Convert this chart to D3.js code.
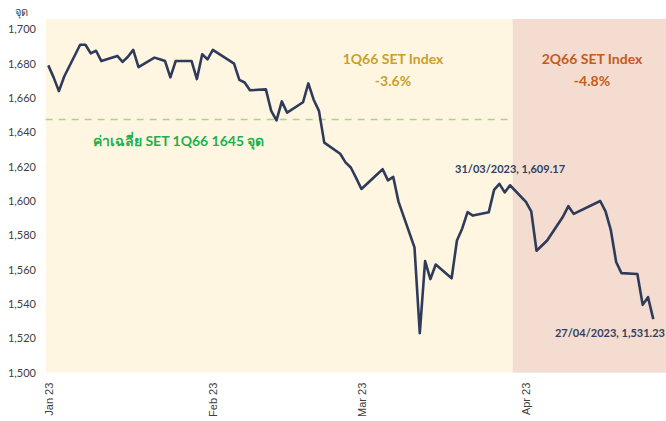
<!DOCTYPE html>
<html>
<head>
<meta charset="utf-8">
<script src="https://cdn.jsdelivr.net/npm/d3@7"></script>
<style>
  html, body { margin: 0; padding: 0; background: #fff; }
  svg { display: block; font-family: Lato, "Noto Sans", sans-serif; }
</style>
</head>
<body>
<div class="chart"></div>
<script>
// SET index daily close, 1Q66 - 2Q66
const dates = [
  "2023-01-03","2023-01-04","2023-01-05","2023-01-06","2023-01-09","2023-01-10","2023-01-11","2023-01-12","2023-01-13",
  "2023-01-16","2023-01-17","2023-01-18","2023-01-19","2023-01-20","2023-01-23","2023-01-24","2023-01-25","2023-01-26",
  "2023-01-27","2023-01-30","2023-01-31","2023-02-01","2023-02-02","2023-02-03","2023-02-06","2023-02-07","2023-02-08",
  "2023-02-09","2023-02-10","2023-02-13","2023-02-14","2023-02-15","2023-02-16","2023-02-17","2023-02-20","2023-02-21",
  "2023-02-22","2023-02-23","2023-02-24","2023-02-27","2023-02-28","2023-03-01","2023-03-02","2023-03-03","2023-03-07",
  "2023-03-08","2023-03-09","2023-03-10","2023-03-13","2023-03-14","2023-03-15","2023-03-16","2023-03-17","2023-03-20",
  "2023-03-21","2023-03-22","2023-03-23","2023-03-24","2023-03-27","2023-03-28","2023-03-29","2023-03-30","2023-03-31",
  "2023-04-03","2023-04-04","2023-04-05","2023-04-07","2023-04-10","2023-04-11","2023-04-12","2023-04-17","2023-04-18",
  "2023-04-19","2023-04-20","2023-04-21","2023-04-24","2023-04-25","2023-04-26","2023-04-27"
];
const values = [
  1679, 1672, 1664, 1672.5, 1691, 1691, 1686, 1687.5, 1681.5,
  1684.5, 1681, 1684, 1688, 1678, 1683.5, 1682.5, 1681.5, 1672,
  1681.5, 1681.5, 1671, 1685.5, 1682.5, 1688, 1682, 1680, 1670.5,
  1669, 1664.5, 1665, 1652.5, 1647, 1658, 1651.5, 1657.5, 1668.5,
  1659, 1652.5, 1634, 1627.5, 1622.5, 1619.5, 1613.5, 1607, 1618.5,
  1612, 1614, 1599.5, 1573, 1523, 1565, 1554.5, 1563, 1555,
  1577, 1584, 1593.5, 1591.5, 1593.5, 1606.5, 1610, 1605, 1609.17,
  1599.5, 1594, 1571, 1577, 1591, 1597, 1592.5, 1600, 1594,
  1583, 1564.5, 1558, 1557.5, 1539.5, 1544, 1531.23
];
const yTicks = [1500, 1520, 1540, 1560, 1580, 1600, 1620, 1640, 1660, 1680, 1700];
const xTicks = ["2023-01-03", "2023-02-03", "2023-03-03", "2023-04-03"];
const quarters = [
  { name: "1Q66 SET Index", change: "-3.6%", start: "2023-01-02T12:00", end: "2023-03-31T12:00" },
  { name: "2Q66 SET Index", change: "-4.8%", start: "2023-03-31T12:00", end: "2023-04-30T00:00" }
];
const avg1Q = 1647.5; // dashed line as drawn
const avgLabel = "ค่าเฉลี่ย SET 1Q66 1645 จุด";

const width = 666, height = 421;
const parse = d3.utcParse("%Y-%m-%d");
const parseT = d3.utcParse("%Y-%m-%dT%H:%M");
const data = dates.map((d, i) => ({ date: parse(d), value: values[i] }));

const x = d3.scaleUtc()
  .domain([parse("2023-01-03"), parse("2023-04-27")])
  .range([48.3, 653.3]);
const y = d3.scaleLinear()
  .domain([1500, 1700])
  .range([372.7, 29.3]);

const svg = d3.select(".chart").append("svg")
  .attr("width", width)
  .attr("height", height);

// quarter background bands
const bandColors = ["#fef6e1", "#f4ddd0"];
svg.selectAll("rect.band")
  .data(quarters)
  .enter()
  .append("rect")
  .attr("class", "band")
  .attr("x", d => x(parseT(d.start)))
  .attr("width", d => Math.min(width, x(parseT(d.end))) - x(parseT(d.start)))
  .attr("y", y(1706))
  .attr("height", y(1500) - y(1706))
  .attr("fill", (d, i) => bandColors[i]);

// y axis labels only
const yAxis = svg.append("g")
  .attr("transform", "translate(36,0)")
  .call(d3.axisLeft(y).tickValues(yTicks).tickFormat(d3.format(",")).tickSize(0).tickPadding(0));
yAxis.select(".domain").remove();
yAxis.selectAll("text")
  .attr("fill", "#404040")
  .style("font-size", "11px")
  .style("font-family", "Lato, sans-serif");

svg.append("text")
  .attr("x", 21)
  .attr("y", 16)
  .attr("text-anchor", "middle")
  .attr("fill", "#404040")
  .style("font-size", "11px")
  .text("จุด");

// x axis, rotated month labels
const xAxis = svg.append("g")
  .attr("transform", `translate(0,${y(1500)})`)
  .call(d3.axisBottom(x).tickValues(xTicks.map(parse)).tickFormat(d3.utcFormat("%b %y")).tickSize(0));
xAxis.select(".domain").remove();
xAxis.selectAll("text")
  .attr("fill", "#404040")
  .style("font-size", "11px")
  .attr("text-anchor", "end")
  .attr("dy", null)
  .attr("y", 0)
  .attr("transform", "translate(4,10) rotate(-90)");

// 1Q average line
svg.append("line")
  .attr("x1", x(parseT(quarters[0].start)))
  .attr("x2", x(parseT(quarters[0].end)))
  .attr("y1", y(avg1Q))
  .attr("y2", y(avg1Q))
  .attr("stroke", "#a9d38f")
  .attr("stroke-width", 1.5)
  .attr("stroke-dasharray", "7,6");

svg.append("text")
  .attr("x", 93)
  .attr("y", 146)
  .attr("fill", "#1db04f")
  .style("font-size", "14px")
  .style("font-weight", "bold")
  .text(avgLabel);

// quarter titles
const qColors = ["#c9a02b", "#c65a1a"];
const qCenters = [393, 592];
quarters.forEach((q, i) => {
  svg.append("text")
    .attr("x", qCenters[i])
    .attr("y", 64)
    .attr("text-anchor", "middle")
    .attr("fill", qColors[i])
    .style("font-size", "14px")
    .style("font-weight", "bold")
    .text(q.name);
  svg.append("text")
    .attr("x", qCenters[i])
    .attr("y", 86)
    .attr("text-anchor", "middle")
    .attr("fill", qColors[i])
    .style("font-size", "14px")
    .style("font-weight", "bold")
    .text(q.change);
});

// index line
const line = d3.line()
  .x(d => x(d.date))
  .y(d => y(d.value));

svg.append("path")
  .datum(data)
  .attr("fill", "none")
  .attr("stroke", "#2f3b5a")
  .attr("stroke-width", 2.6)
  .attr("stroke-linejoin", "round")
  .attr("d", line);

// point labels
const fmt = d3.format(",.2f");
const dfmt = d3.utcFormat("%d/%m/%Y");
const q1End = data.find(d => +d.date === +parse("2023-03-31"));
const last = data[data.length - 1];

svg.append("text")
  .attr("x", x(q1End.date))
  .attr("y", y(q1End.value) - 12)
  .attr("text-anchor", "middle")
  .attr("fill", "#333f5e")
  .style("font-size", "11px")
  .style("font-weight", "bold")
  .text(`${dfmt(q1End.date)}, ${fmt(q1End.value)}`);

svg.append("text")
  .attr("x", width - 1)
  .attr("y", y(last.value) + 18)
  .attr("text-anchor", "end")
  .attr("fill", "#333f5e")
  .style("font-size", "11px")
  .style("font-weight", "bold")
  .text(`${dfmt(last.date)}, ${fmt(last.value)}`);
</script>
</body>
</html>
